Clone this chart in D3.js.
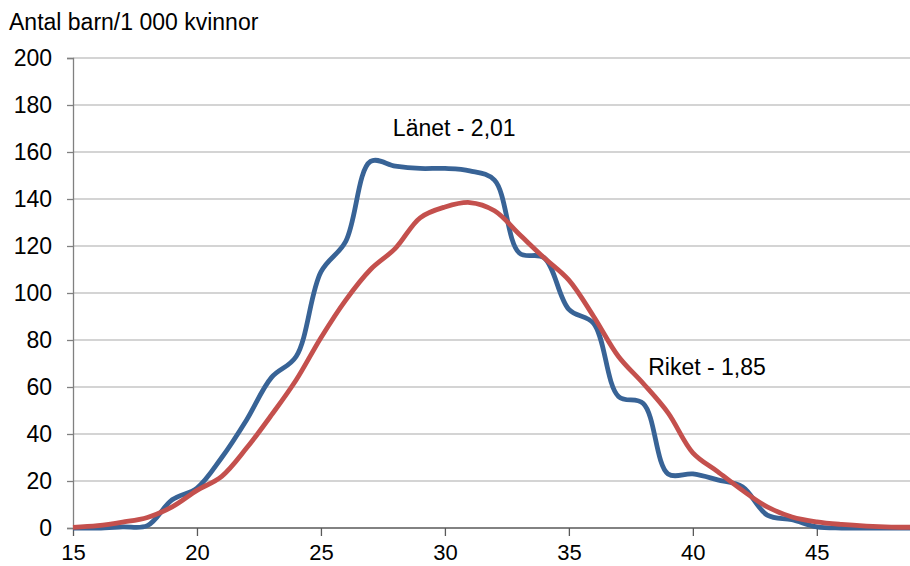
<!DOCTYPE html>
<html><head><meta charset="utf-8">
<script src="https://cdn.jsdelivr.net/npm/d3@7"></script>
<style>body{margin:0;background:#fff}svg{display:block}text{font-family:"Liberation Sans",Arial,sans-serif;fill:#000}</style>
</head><body><svg id="c" width="910" height="566"></svg>
<script>
const ages = d3.range(15, 50);
const lanet = [0,0,0.5,1,12,17,30,46,64,73,109,122,156,154,153,153,152,148,117,115,93,87,56,53,23,23,20.5,17.5,5.5,3.5,0.5,0,0,0,0];
const riket = [0.3,1,2.5,4.5,9,16,22,34,48,63,81,97,110,119,132,136.6,138.5,135,125,115,105.5,90,73,61.5,49,32,24,16,9,4.7,2.6,1.5,0.8,0.4,0.3];
const yTicks = [0,20,40,60,80,100,120,140,160,180,200];
const xTicks = [15,20,25,30,35,40,45];
const yTitle = "Antal barn/1 000 kvinnor";
const labels = [{text:"Länet - 2,01", age:27.9, val:167}, {text:"Riket - 1,85", age:38.2, val:65}];

const svg = d3.select("#c");
const x = d3.scaleLinear().domain([15,49]).range([73, 916]);
const y = d3.scaleLinear().domain([0,200]).range([528, 58]);
const FS = "23px";

svg.append("g").selectAll("line").data(yTicks.filter(d=>d>0)).join("line")
  .attr("x1",73).attr("x2",910).attr("y1",d=>y(d)).attr("y2",d=>y(d))
  .attr("stroke","#c6c6c6").attr("stroke-width",1.3);

const ya = svg.append("g").attr("transform","translate(73,0)")
  .call(d3.axisLeft(y).tickValues(yTicks).tickSize(6).tickPadding(15));
ya.select(".domain").attr("stroke","#808080").attr("stroke-width",1.3);
ya.selectAll(".tick line").attr("stroke","#808080").attr("stroke-width",1.3);
ya.selectAll(".tick text").attr("font-size",FS).attr("font-family","Liberation Sans, Arial, sans-serif").attr("fill","#000");

const xa = svg.append("g").attr("transform","translate(0,528)")
  .call(d3.axisBottom(x).tickValues(xTicks).tickSize(8).tickPadding(8).tickFormat(d3.format("d")));
xa.select(".domain").attr("stroke","#595959").attr("stroke-width",1.3).attr("d","M73,0H910");
xa.selectAll(".tick line").attr("stroke","#595959").attr("stroke-width",1.3);
xa.selectAll(".tick text").attr("font-size","22px").attr("font-family","Liberation Sans, Arial, sans-serif").attr("fill","#000");

const line = d3.line().x((d,i)=>x(ages[i])).y(d=>y(d)).curve(d3.curveCatmullRom.alpha(0.5));
svg.append("path").datum(lanet).attr("d",line).attr("fill","none")
  .attr("stroke","#386396").attr("stroke-width",4.8).attr("stroke-linejoin","round");
svg.append("path").datum(riket).attr("d",line).attr("fill","none")
  .attr("stroke","#c4504d").attr("stroke-width",4.8).attr("stroke-linejoin","round");

svg.append("text").attr("x",9).attr("y",30).attr("font-size",FS).text(yTitle);
svg.selectAll(".lbl").data(labels).join("text").attr("class","lbl")
  .attr("x",d=>x(d.age)).attr("y",d=>y(d.val)).attr("font-size",FS).text(d=>d.text);
</script></body></html>
